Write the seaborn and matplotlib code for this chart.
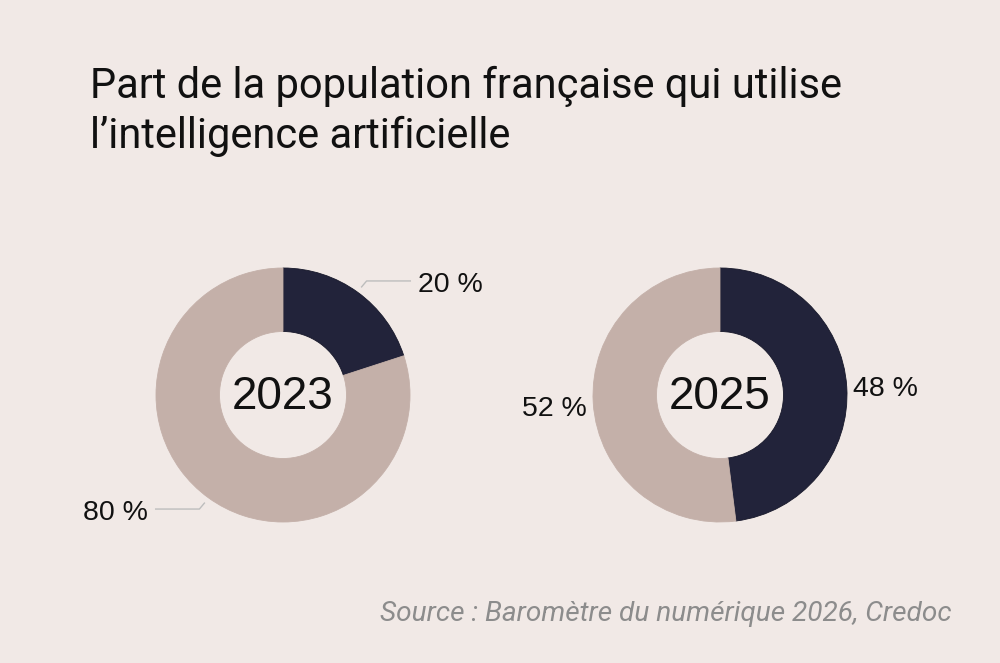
import matplotlib
matplotlib.use("Agg")
import matplotlib.pyplot as plt
import seaborn as sns
import numpy as np

# Data
years = ["2023", "2025"]
users = [20, 48]        # % utilisant l'IA
non_users = [80, 52]    # % n'utilisant pas
title_lines = ["Part de la population française qui utilise",
               "l’intelligence artificielle"]
source = "Source : Baromètre du numérique 2026, Credoc"

sns.set_theme(style="white")
BG = "#f1e9e6"
palette = sns.color_palette(["#22233a", "#c4b0a9"])

fig = plt.figure(figsize=(10, 6.63), dpi=100, facecolor=BG)

W, H = 1000, 663
R = 127
centers = [(283, 395), (720, 395)]

label_font = ["Liberation Sans", "DejaVu Sans"]

for i, (cx, cy) in enumerate(centers):
    ax = fig.add_axes([(cx - R) / W, (H - cy - R) / H, 2 * R / W, 2 * R / H])
    ax.set_facecolor(BG)
    vals = [users[i], non_users[i]]
    wedges, _ = ax.pie(vals, colors=palette, startangle=90, counterclock=False,
                       radius=1, wedgeprops=dict(width=0.5, linewidth=0.6))
    wedges[0].set_edgecolor("#161729")
    wedges[1].set_edgecolor(palette[1])
    ax.set_xlim(-1, 1)
    ax.set_ylim(-1, 1)
    ax.set_aspect("equal")
    ax.axis("off")
    ax.text(0, -0.015, years[i], ha="center", va="center", fontsize=33,
            family=label_font, color="#111111")

    # labels
    start = 90.0
    total = sum(vals)
    for j, v in enumerate(vals):
        ang = start - 360 * v / total / 2
        start -= 360 * v / total
        a = np.deg2rad(ang)
        x, y = np.cos(a), np.sin(a)
        txt = f"{v} %"
        if i == 0:
            p0 = (1.047 * x, 1.047 * y)
            p1 = (1.12 * x, 1.11 * y)
            xe = 1.008 * np.sign(x)
            ax.plot([p0[0], p1[0], xe], [p0[1], p1[1], p1[1]], color="#bdbdbd",
                    lw=1, clip_on=False, solid_capstyle="butt")
            ax.text(xe + 0.055 * np.sign(x), p1[1] - 0.03, txt,
                    ha="left" if x > 0 else "right", va="center",
                    fontsize=20.5, family=label_font, color="#111111")
        else:
            ax.text(1.05 * np.sign(x), 1.25 * y - 0.035, txt,
                    ha="left" if x > 0 else "right", va="center",
                    fontsize=20.5, family=label_font, color="#111111")

fig.text(0.09, 1 - 98 / H, title_lines[0], ha="left", va="baseline",
         fontsize=30, family=["Roboto", "DejaVu Sans"], color="#111111")
fig.text(0.09, 1 - 148 / H, title_lines[1], ha="left", va="baseline",
         fontsize=30, family=["Roboto", "DejaVu Sans"], color="#111111")
fig.text(952 / W, 1 - 621 / H, source, ha="right", va="baseline",
         fontsize=20.2, family=["Roboto", "DejaVu Sans"], style="italic",
         color="#8c8c8c")

fig.savefig("out.png", dpi=100, facecolor=BG)
